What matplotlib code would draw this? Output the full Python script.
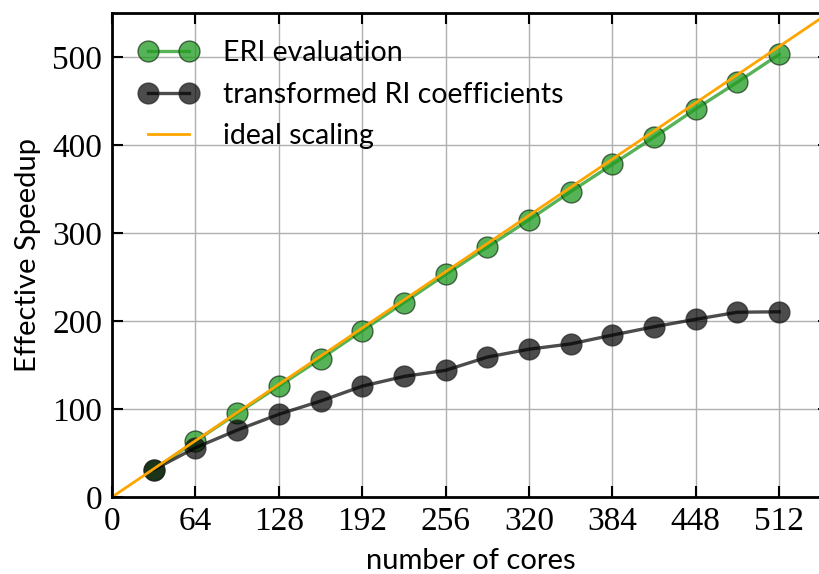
import numpy as np
import matplotlib
matplotlib.use("Agg")
import matplotlib.pyplot as plt

# core counts and measured speedups
cores = [32, 64, 96, 128, 160, 192, 224, 256, 288, 320, 352, 384, 416, 448, 480, 512]
eri_speedup = [31, 63.5, 95, 126, 157, 189, 221, 253, 284, 315, 347, 378, 409, 441, 471.5, 503]
ri_speedup = [31, 56, 76, 94, 109, 126, 137, 144, 159, 168, 174, 184, 193.5, 202, 210, 210.5]
ideal_x = [0, 560]
xticks = [0, 64, 128, 192, 256, 320, 384, 448, 512]
yticks = [0, 100, 200, 300, 400, 500]

sans = ["Lato", "DejaVu Sans"]
serif = ["Liberation Serif", "DejaVu Serif"]

fig = plt.figure(figsize=(8.2, 5.74), dpi=100)
ax = fig.add_axes([0.1366, 0.1341, 0.874, 0.8432])

ax.plot(cores, eri_speedup, "o-", color="#1f9a1f", alpha=0.75, lw=2.4,
        ms=15, mec="#1c3a1c", mew=1.0, label="ERI evaluation")
ax.plot(cores, ri_speedup, "o-", color="black", alpha=0.7, lw=2.4,
        ms=15, mec="#222222", mew=1.0, label="transformed RI coefficients")
ax.plot(ideal_x, ideal_x, "-", color="orange", lw=2, label="ideal scaling")

ax.set_xlim(0, 550)
ax.set_ylim(0, 550)
ax.set_xticks(xticks)
ax.set_yticks(yticks)
ax.grid(True, color="#b0b0b0", lw=1)
ax.set_axisbelow(True)
ax.tick_params(direction="in", length=8, width=1.5, top=True, right=True,
               labelsize=24, pad=7)
for lab in ax.get_xticklabels() + ax.get_yticklabels():
    lab.set_family(serif)
for sp in ax.spines.values():
    sp.set_linewidth(2)

ax.set_xlabel("number of cores", fontsize=21, family=sans, labelpad=8)
ax.set_ylabel("Effective Speedup", fontsize=21, family=sans, labelpad=8)

leg = ax.legend(loc="upper left", frameon=False, numpoints=2,
                prop={"family": sans, "size": 20.5}, handlelength=2.05,
                handletextpad=0.9, borderaxespad=0.5, borderpad=0.45,
                labelspacing=0.55)

fig.savefig("out.png", dpi=100)
